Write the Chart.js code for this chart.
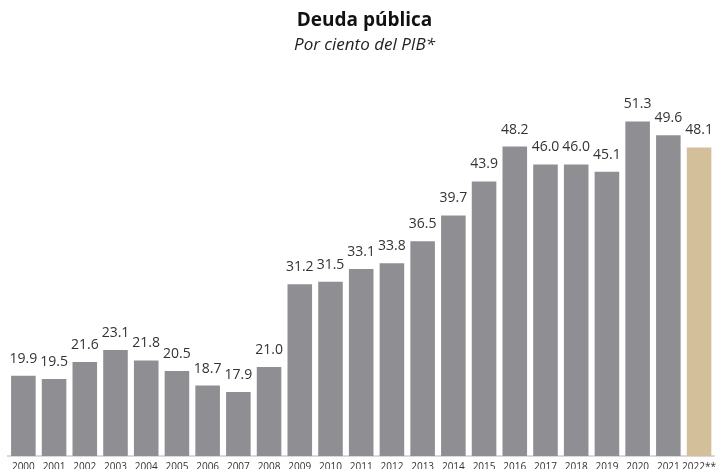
<!DOCTYPE html>
<html>
<head>
<meta charset="utf-8">
<script src="https://cdn.jsdelivr.net/npm/chart.js@4.4.1/dist/chart.umd.min.js"></script>
<style>
  html, body { margin: 0; padding: 0; background: #fff; overflow: hidden; }
</style>
</head>
<body>
<canvas id="chart-1" width="721" height="478"></canvas>
<script>
// Datos del gráfico
const years = ['2000', '2001', '2002', '2003', '2004', '2005', '2006', '2007', '2008', '2009', '2010', '2011',
    '2012', '2013', '2014', '2015', '2016', '2017', '2018', '2019', '2020', '2021', '2022**'];
const debt = [19.9, 19.5, 21.6, 23.1, 21.8, 20.5, 18.7, 17.9, 21.0, 31.2, 31.5, 33.1,
    33.8, 36.5, 39.7, 43.9, 48.2, 46.0, 46.0, 45.1, 51.3, 49.6, 48.1];

const grey = '#8f8e93';
const tan = '#d3c09b';
const barColors = years.map(y => y.indexOf('**') > -1 ? tan : grey);

// Etiquetas de valores encima de las barras
const valueLabels = {
    id: 'valueLabels',
    afterDatasetsDraw(chart) {
        const ctx = chart.ctx;
        const meta = chart.getDatasetMeta(0);
        ctx.save();
        ctx.font = '14px "Open Sans", sans-serif';
        ctx.fillStyle = '#333333';
        ctx.textAlign = 'center';
        ctx.textBaseline = 'bottom';
        meta.data.forEach((bar, i) => {
            ctx.fillText(debt[i].toFixed(1), bar.x, bar.y - 10);
        });
        ctx.restore();
    }
};

const ctx = document.getElementById('chart-1').getContext('2d');

new Chart(ctx, {
    type: 'bar',
    data: {
        labels: years,
        datasets: [{
            label: 'Deuda pública',
            data: debt,
            backgroundColor: barColors,
            categoryPercentage: 1,
            barPercentage: 0.8
        }]
    },
    options: {
        responsive: false,
        animation: false,
        layout: {
            padding: {left: 8, right: 0, top: 9, bottom: 0}
        },
        plugins: {
            legend: {display: false},
            tooltip: {enabled: false},
            title: {
                display: true,
                text: 'Deuda pública',
                color: '#111111',
                font: {family: '"Open Sans", sans-serif', size: 19, weight: 'bold'},
                padding: {top: 0, bottom: 3}
            },
            subtitle: {
                display: true,
                text: 'Por ciento del PIB*',
                color: '#222222',
                font: {family: '"Open Sans", sans-serif', size: 17, style: 'italic'},
                padding: {top: 0, bottom: 12}
            }
        },
        scales: {
            x: {
                grid: {display: false, drawTicks: false},
                border: {display: true, color: '#d9d9d9', width: 2},
                ticks: {
                    color: '#333333',
                    padding: 5,
                    maxRotation: 0,
                    autoSkip: false,
                    font: {family: '"Open Sans", sans-serif', size: 10}
                }
            },
            y: {
                display: false,
                min: 10,
                max: 58
            }
        }
    },
    plugins: [valueLabels]
});
</script>
</body>
</html>
